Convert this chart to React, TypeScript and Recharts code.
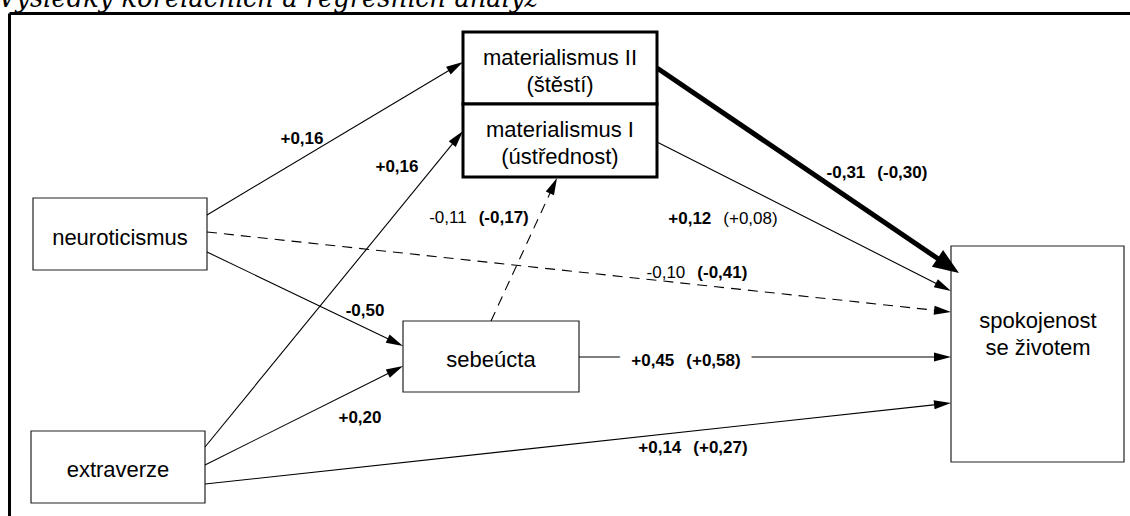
import {
  ScatterChart,
  Scatter,
  XAxis,
  YAxis,
  ReferenceArea,
  ReferenceLine,
  ReferenceDot,
} from "recharts";

const W = 1130;
const H = 516;

const title = "Výsledky korelačních a regresních analýz";

// boxes of the path diagram (layout units = picture units)
const nodes = [
  { id: "mat2", lines: ["materialismus II", "(štěstí)"], x1: 463, x2: 657, y1: 32, y2: 104, x: 560, y: 68, heavy: true },
  { id: "mat1", lines: ["materialismus I", "(ústřednost)"], x1: 463, x2: 657, y1: 104, y2: 177, x: 560, y: 140, heavy: true },
  { id: "neuro", lines: ["neuroticismus"], x1: 33, x2: 207, y1: 198, y2: 270, x: 120, y: 234, heavy: false },
  { id: "sebe", lines: ["sebeúcta"], x1: 403, x2: 579, y1: 321, y2: 392, x: 491, y: 356, heavy: false },
  { id: "extra", lines: ["extraverze"], x1: 31, x2: 205, y1: 431, y2: 503, x: 118, y: 466, heavy: false },
  { id: "spok", lines: ["spokojenost", "se životem"], x1: 951, x2: 1124, y1: 246, y2: 462, x: 1038, y: 331, heavy: false },
];

// paths between boxes
const paths = [
  { from: "neuro", to: "mat2", x1: 207, y1: 215, x2: 463, y2: 62, kind: "solid" },
  { from: "extra", to: "mat1", x1: 205, y1: 447, x2: 463, y2: 131, kind: "solid" },
  { from: "sebe", to: "mat1", x1: 491, y1: 321, x2: 557, y2: 178, kind: "dashed" },
  { from: "neuro", to: "spok", x1: 207, y1: 232, x2: 951, y2: 312, kind: "dashed" },
  { from: "neuro", to: "sebe", x1: 207, y1: 252, x2: 403, y2: 346, kind: "solid" },
  { from: "extra", to: "sebe", x1: 205, y1: 465, x2: 403, y2: 366, kind: "solid" },
  { from: "extra", to: "spok", x1: 205, y1: 484, x2: 951, y2: 403, kind: "solid" },
  { from: "sebe", to: "spok", x1: 579, y1: 357, x2: 951, y2: 357, kind: "solid" },
  { from: "mat1", to: "spok", x1: 657, y1: 142, x2: 951, y2: 291, kind: "solid" },
  { from: "mat2", to: "spok", x1: 657, y1: 68, x2: 959, y2: 273, kind: "thick" },
];

// path coefficients (bold = b)
const coefs = [
  { x: 302, y: 138, parts: [{ t: "+0,16", b: true }] },
  { x: 397, y: 166, parts: [{ t: "+0,16", b: true }] },
  { x: 479, y: 217, parts: [{ t: "-0,11", b: false }, { t: "(-0,17)", b: true }] },
  { x: 723, y: 218, parts: [{ t: "+0,12", b: true }, { t: "(+0,08)", b: false }] },
  { x: 877, y: 172, parts: [{ t: "-0,31", b: true }, { t: "(-0,30)", b: true }] },
  { x: 697, y: 272, parts: [{ t: "-0,10", b: false }, { t: "(-0,41)", b: true }] },
  { x: 365, y: 310, parts: [{ t: "-0,50", b: true }] },
  { x: 360, y: 417, parts: [{ t: "+0,20", b: true }] },
  { x: 686, y: 360, parts: [{ t: "+0,45", b: true }, { t: "(+0,58)", b: true }], knockout: true },
  { x: 693, y: 447, parts: [{ t: "+0,14", b: true }, { t: "(+0,27)", b: true }] },
];

// frame round the diagram
const frame = [
  { x1: 9.5, y1: 13.5, x2: W, y2: 13.5 },
  { x1: 9.5, y1: 13.5, x2: 9.5, y2: H },
];

const FONT = "'Liberation Sans', Arial, Helvetica, sans-serif";

function Arrow(props: any) {
  const { x1, y1, x2, y2, width, dash, headLen, headW } = props;
  if ([x1, y1, x2, y2].some((v) => typeof v !== "number")) return null;
  const dx = x2 - x1;
  const dy = y2 - y1;
  const len = Math.hypot(dx, dy) || 1;
  const ux = dx / len;
  const uy = dy / len;
  const bx = x2 - ux * headLen;
  const by = y2 - uy * headLen;
  const ex = headLen ? bx + ux * 2 : x2;
  const ey = headLen ? by + uy * 2 : y2;
  return (
    <g>
      <line
        x1={x1}
        y1={y1}
        x2={ex}
        y2={ey}
        stroke="#000"
        strokeWidth={width}
        strokeDasharray={dash}
      />
      {headLen ? (
        <polygon
          points={`${x2},${y2} ${bx - uy * headW},${by + ux * headW} ${bx + uy * headW},${by - ux * headW}`}
          fill="#000"
        />
      ) : null}
    </g>
  );
}

function arrowStyle(kind: string) {
  if (kind === "thick") return { width: 5, dash: undefined, headLen: 26, headW: 10 };
  if (kind === "dashed") return { width: 1.1, dash: "10 7", headLen: 17, headW: 4.5 };
  return { width: 1.1, dash: undefined, headLen: 17, headW: 4.5 };
}

function NodeText(props: any) {
  const { cx, cy, payload } = props;
  const fs = 22;
  const lh = 27;
  const n = payload.lines.length;
  return (
    <text textAnchor="middle" fontFamily={FONT} fontSize={fs} fill="#000">
      {payload.lines.map((l: string, i: number) => (
        <tspan key={i} x={cx} y={cy + fs * 0.35 + 3 + (i - (n - 1) / 2) * lh}>
          {l}
        </tspan>
      ))}
    </text>
  );
}

function CoefText(props: any) {
  const { cx, cy, payload } = props;
  const fs = 17;
  return (
    <text
      x={cx}
      y={cy + fs * 0.35}
      textAnchor="middle"
      fontFamily={FONT}
      fontSize={fs}
      fill="#000"
      stroke={payload.knockout ? "#fff" : "none"}
      strokeWidth={payload.knockout ? 24 : 0}
      paintOrder="stroke"
    >
      {payload.parts.map((p: any, i: number) => (
        <tspan key={i} fontWeight={p.b ? "bold" : "normal"} dx={i > 0 ? 12 : 0}>
          {p.t}
        </tspan>
      ))}
    </text>
  );
}

function TitleText(props: any) {
  const { cx, cy } = props;
  return (
    <text
      x={cx - 2}
      y={cy}
      fontFamily="DejaVu Serif, Liberation Serif, Times New Roman, serif"
      fontStyle="italic"
      fontSize={28}
      textLength={540}
      lengthAdjust="spacingAndGlyphs"
      fill="#000"
    >
      {title}
    </text>
  );
}

export default function App() {
  return (
    <div style={{ position: "absolute", left: 0, top: 0, background: "#fff" }}>
      <ScatterChart
        width={W}
        height={H}
        margin={{ top: 0, right: 0, bottom: 0, left: 0 }}
      >
        <XAxis type="number" dataKey="x" domain={[0, W]} allowDataOverflow hide />
        <YAxis type="number" dataKey="y" domain={[0, H]} allowDataOverflow reversed hide />

        <ReferenceDot
          x={0}
          y={7}
          ifOverflow="visible"
          shape={(p: any) => <TitleText {...p} />}
        />

        {frame.map((f, i) => (
          <ReferenceLine
            key={`f${i}`}
            segment={[
              { x: f.x1, y: f.y1 },
              { x: f.x2, y: f.y2 },
            ]}
            ifOverflow="visible"
            shape={(p: any) => <Arrow {...p} width={3} headLen={0} headW={0} />}
          />
        ))}

        {paths.map((a, i) => {
          const s = arrowStyle(a.kind);
          return (
            <ReferenceLine
              key={`a${i}`}
              segment={[
                { x: a.x1, y: a.y1 },
                { x: a.x2, y: a.y2 },
              ]}
              ifOverflow="visible"
              shape={(p: any) => <Arrow {...p} {...s} />}
            />
          );
        })}

        {nodes.map((n) => (
          <ReferenceArea
            key={n.id}
            x1={n.x1}
            x2={n.x2}
            y1={n.y1}
            y2={n.y2}
            ifOverflow="visible"
            fill="#fff"
            fillOpacity={1}
            stroke={n.heavy ? "#000" : "#222"}
            strokeWidth={n.heavy ? 3 : 1.2}
          />
        ))}

        <Scatter
          data={nodes}
          isAnimationActive={false}
          shape={(p: any) => <NodeText {...p} />}
        />
        <Scatter
          data={coefs}
          isAnimationActive={false}
          shape={(p: any) => <CoefText {...p} />}
        />
      </ScatterChart>
    </div>
  );
}
